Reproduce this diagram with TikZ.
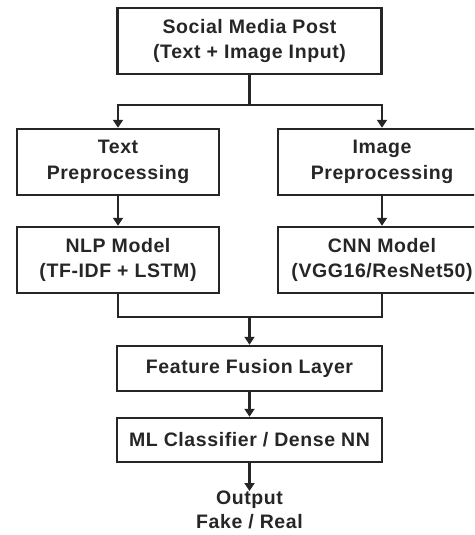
\documentclass[tikz,border=0pt]{standalone}
\usepackage{fontspec}
\setmainfont{Liberation Sans}[LetterSpace=3]
\usetikzlibrary{arrows.meta}
\begin{document}
\begin{tikzpicture}[x=1pt,y=-1pt,
  box/.style={draw=black!85, line width=2.4pt, rectangle, inner sep=0pt, align=center,
    font=\bfseries\fontsize{19.5}{25.5}\selectfont, text=black!85},
  wire/.style={draw=black!85, line width=2.4pt},
  arr/.style={wire, -{Triangle[width=10pt,length=8pt]}}]
\useasboundingbox (0,0) rectangle (474,535);
\clip (0,0) rectangle (474,535);
\node[box, minimum width=264pt, minimum height=66pt] (post) at (249.5,41) {Social Media Post\\(Text + Image Input)};
\node[box, minimum width=202pt, minimum height=66pt] (tpre) at (118,162) {Text\\Preprocessing};
\node[box, minimum width=208pt, minimum height=66pt] (ipre) at (382,162) {Image\\Preprocessing};
\node[box, minimum width=202pt, minimum height=66pt] (nlp) at (118,260) {NLP Model\\(TF-IDF + LSTM)};
\node[box, minimum width=208pt, minimum height=66pt] (cnn) at (382,260) {CNN Model\\(VGG16/ResNet50)};
\node[box, minimum width=265pt, minimum height=45pt] (fusion) at (249.5,368.5) {Feature Fusion Layer};
\node[box, minimum width=265pt, minimum height=44pt] (clf) at (249.5,440) {ML Classifier / Dense NN};
\node[inner sep=0pt, align=center, font=\bfseries\fontsize{19.5}{24}\selectfont, text=black!85, anchor=north] (out) at (249.5,491) {Output\\Fake / Real};
\coordinate (j1) at (249.5,105);
\coordinate (j2) at (249.5,317);
\draw[wire] (post.south) -- (j1);
\draw[arr] (j1) -| (tpre.north);
\draw[arr] (j1) -| (ipre.north);
\draw[arr] (tpre.south) -- (nlp.north);
\draw[arr] (ipre.south) -- (cnn.north);
\draw[wire] (nlp.south) |- (j2);
\draw[wire] (cnn.south) |- (j2);
\draw[arr] (j2) -- (fusion.north);
\draw[arr] (fusion.south) -- (clf.north);
\draw[arr] (clf.south) -- (out.north);
\end{tikzpicture}
\end{document}
